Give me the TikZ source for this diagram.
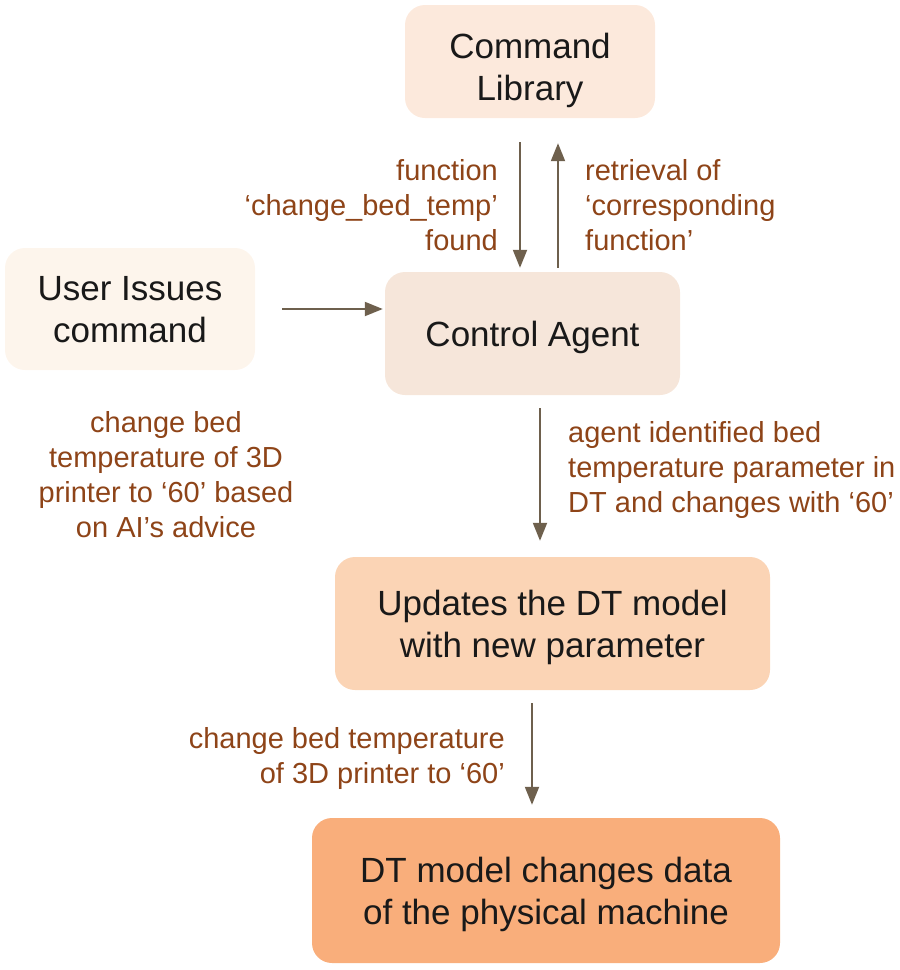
\documentclass[tikz,border=0pt]{standalone}
\usepackage{fontspec}
\setmainfont{Liberation Sans}
\usetikzlibrary{arrows.meta}
\definecolor{brun}{HTML}{8E4418}
\definecolor{flechecol}{HTML}{6E604D}
\definecolor{fondA}{HTML}{FCE9DC}
\definecolor{fondU}{HTML}{FDF5EC}
\definecolor{fondC}{HTML}{F6E6DA}
\definecolor{fondM}{HTML}{FBD4B5}
\definecolor{fondD}{HTML}{F9AE7B}

\begin{document}
\begin{tikzpicture}[x=1pt,y=-1pt,
    boite/.style={rounded corners=20pt, align=center, inner sep=0pt,
      text height=68pt, text depth=1pt,
      text=black!90, font=\fontsize{35}{42}\selectfont},
    etiq/.style={inner sep=0pt, text=brun, font=\fontsize{29}{35}\selectfont},
    fleche/.style={draw=flechecol, line width=2pt,
      -{Triangle[length=18pt,width=14pt]}}]
    \useasboundingbox (0,0) rectangle (900,970);
    % les boites
    \node[boite, fill=fondA, minimum width=250pt, minimum height=113pt, text height=77pt, text depth=0pt] (lib) at (530,61.5) {Command\\Library};
    \node[boite, fill=fondU, minimum width=250pt, minimum height=122pt, text depth=2pt] (user) at (130,309) {User Issues\\command};
    \node[boite, fill=fondC, minimum width=295pt, minimum height=123pt, text height=26pt, text depth=0pt] (ctrl) at (532.5,333.5) {Control Agent};
    \node[boite, fill=fondM, minimum width=435pt, minimum height=133pt] (maj) at (552.5,623.5) {Updates the DT model\\with new parameter};
    \node[boite, fill=fondD, minimum width=468pt, minimum height=145pt] (dt) at (546,890.5) {DT model changes data\\of the physical machine};
    % les fleches
    \draw[fleche, shorten <=24pt, shorten >=4pt] ([xshift=-10pt]lib.south) -- ([xshift=-10pt]lib.south |- ctrl.north);
    \draw[fleche, shorten <=4pt, shorten >=25pt] ([xshift=25.5pt]ctrl.north) -- ([xshift=25.5pt]ctrl.north |- lib.south);
    \draw[fleche, shorten <=27pt, shorten >=2pt] (user.east) -- (user.east -| ctrl.west);
    \draw[fleche, shorten <=13pt, shorten >=16pt] ([xshift=7.5pt]ctrl.south) -- ([xshift=7.5pt]ctrl.south |- maj.north);
    \draw[fleche, shorten <=13pt, shorten >=13pt] ([xshift=-20.5pt]maj.south) -- ([xshift=-20.5pt]maj.south |- dt.north);
    % les etiquettes
    \node[etiq, anchor=east, align=right] (trouve) at (498,205.5) {function\\‘change\_bed\_temp’\\found};
    \node[etiq, anchor=west, align=left] (recup) at (585,205.5) {retrieval of\\‘corresponding\\function’};
    \node[etiq, align=center] (consigne) at (166,474.5) {change bed\\temperature of 3D\\printer to ‘60’ based\\on AI’s advice};
    \node[etiq, anchor=west, align=left] (ident) at (568,470) {agent identified bed\\temperature parameter in\\DT and changes with ‘60’};
    \node[etiq, anchor=east, align=right] (ordre) at (505,758) {change bed temperature\\of 3D printer to ‘60’};
\end{tikzpicture}
\end{document}
